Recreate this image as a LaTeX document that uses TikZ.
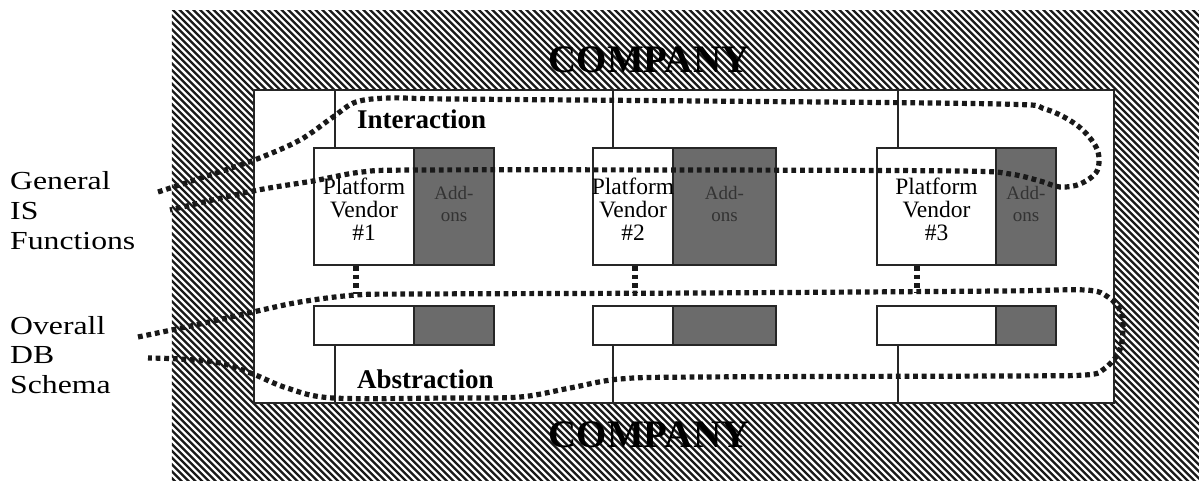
\documentclass[tikz,border=0pt]{standalone}
\usepackage{fontspec}
\setmainfont{Liberation Serif}
\newfontfamily\wideserif[FakeStretch=1.22]{Liberation Serif}

\begin{document}
\begin{tikzpicture}[x=1pt,y=-1pt,
  frameline/.style={draw=black!85, line width=1.5pt},
  tick/.style={draw=black!85, line width=1.5pt},
  vendorbox/.style={draw=black!85, line width=2pt, fill=white, inner sep=0pt},
  addonbox/.style={draw=black!85, line width=2pt, fill=black!58, inner sep=0pt},
  dotloop/.style={draw=black!90, line width=5.2pt, dash pattern=on 4.8pt off 3.8pt},
  sidelabel/.style={anchor=base west, inner sep=0pt, align=left,
    font=\wideserif\fontsize{26}{29.5}\selectfont},
  layerlabel/.style={anchor=base west, inner sep=0pt,
    font=\fontsize{27}{30}\selectfont\bfseries},
  companylabel/.style={anchor=base, inner sep=0pt, text=black,
    font=\fontsize{39}{40}\selectfont\bfseries},
  vendortext/.style={align=center, inner sep=0pt,
    font=\fontsize{23.5}{23}\selectfont},
  addontext/.style={align=center, inner sep=0pt, text=black!80,
    font=\fontsize{19}{22}\selectfont}
]
\useasboundingbox (0,0) rectangle (1199,481);

% hatched company area
\node[inner sep=0pt, minimum width=1027pt, minimum height=470pt] (company) at (685.5,246) {};
\begin{scope}
  \clip (company.north west) rectangle (company.south east);
  \foreach \k in {0,...,225}
    \draw[black!90, line width=2.3pt] ({172-480+\k*6.8},5) -- ++(490,490);
\end{scope}
\node[companylabel] (ctop) at (649,73) {COMPANY};
\node[companylabel] (cbot) at (649,447) {COMPANY};

% white inner region
\node[frameline, fill=white, inner sep=0pt, minimum width=860pt, minimum height=313pt]
  (inner) at (684,246.5) {};

% vendor platforms (white part + add-ons)
\node[vendorbox, minimum width=100pt, minimum height=117pt] (p1) at (364,206.5) {};
\node[addonbox,  minimum width=80pt,  minimum height=117pt] (a1) at (454,206.5) {};
\node[vendorbox, minimum width=80pt,  minimum height=117pt] (p2) at (633,206.5) {};
\node[addonbox,  minimum width=103pt, minimum height=117pt] (a2) at (724.5,206.5) {};
\node[vendorbox, minimum width=119pt, minimum height=117pt] (p3) at (936.5,206.5) {};
\node[addonbox,  minimum width=60pt,  minimum height=117pt] (a3) at (1026,206.5) {};

% schema boxes
\node[vendorbox, minimum width=100pt, minimum height=39pt] (d1) at (364,325.5) {};
\node[addonbox,  minimum width=80pt,  minimum height=39pt] (e1) at (454,325.5) {};
\node[vendorbox, minimum width=80pt,  minimum height=39pt] (d2) at (633,325.5) {};
\node[addonbox,  minimum width=103pt, minimum height=39pt] (e2) at (724.5,325.5) {};
\node[vendorbox, minimum width=119pt, minimum height=39pt] (d3) at (936.5,325.5) {};
\node[addonbox,  minimum width=60pt,  minimum height=39pt] (e3) at (1026,325.5) {};

% thin separators between layers
\coordinate (v1) at (335,0);
\coordinate (v2) at (613,0);
\coordinate (v3) at (898,0);
\draw[tick] (inner.north -| v1) -- (p1.north -| v1);
\draw[tick] (inner.north -| v2) -- (p2.north -| v2);
\draw[tick] (inner.north -| v3) -- (p3.north -| v3);
\draw[tick] (d1.south -| v1) -- (inner.south -| v1);
\draw[tick] (d2.south -| v2) -- (inner.south -| v2);
\draw[tick] (d3.south -| v3) -- (inner.south -| v3);

% labels
\node[layerlabel] (interaction) at (357,129) {Interaction};
\node[layerlabel] (abstraction) at (357,388) {Abstraction};

\node[vendortext] (t1) at (364,209) {Platform\\Vendor\\\#1};
\node[vendortext] (t2) at (633,209) {Platform\\Vendor\\\#2};
\node[vendortext] (t3) at (936.5,209) {Platform\\Vendor\\\#3};
\node[addontext] (o1) at (454,204) {Add-\\ons};
\node[addontext] (o2) at (724.5,204) {Add-\\ons};
\node[addontext] (o3) at (1026,204) {Add-\\ons};

% multi-line labels: base anchor sits on the last line
\node[sidelabel] (gis) at (10,249) {General\\IS\\Functions};
\node[sidelabel] (odb) at (10,393) {Overall\\DB\\Schema};

% general IS functions boundary
\draw[dotloop] plot[smooth, tension=0.55] coordinates {
  (158,192) (210,175) (257,159) (300,140) (333,117) (356,102) (390,98)
  (450,99) (700,101) (1000,104) (1045,109) (1078,126) (1097,149)
  (1097,171) (1080,184) (1060,187) (1040,181) (1010,174) (960,171)
  (700,170) (420,170) (362,172) (313,181) (253,191) (170,210)};

% overall DB schema boundary
\draw[dotloop] plot[smooth, tension=0.55] coordinates {
  (138,337) (200,324) (253,312) (300,302) (356,295) (420,294) (700,293)
  (1000,291) (1085,290) (1108,297) (1121,312) (1123,330) (1119,352)
  (1104,369) (1085,375) (1000,376) (700,377) (620,379) (570,388)
  (520,397) (450,398) (333,398) (287,388) (253,374) (220,363)
  (180,359) (148,358)};

% vendor-to-schema links
\coordinate (s1) at (356,294);
\coordinate (s2) at (635,293);
\coordinate (s3) at (917,292);
\draw[dotloop] (p1.south -| s1) -- (s1);
\draw[dotloop] (p2.south -| s2) -- (s2);
\draw[dotloop] (p3.south -| s3) -- (s3);
\end{tikzpicture}
\end{document}
